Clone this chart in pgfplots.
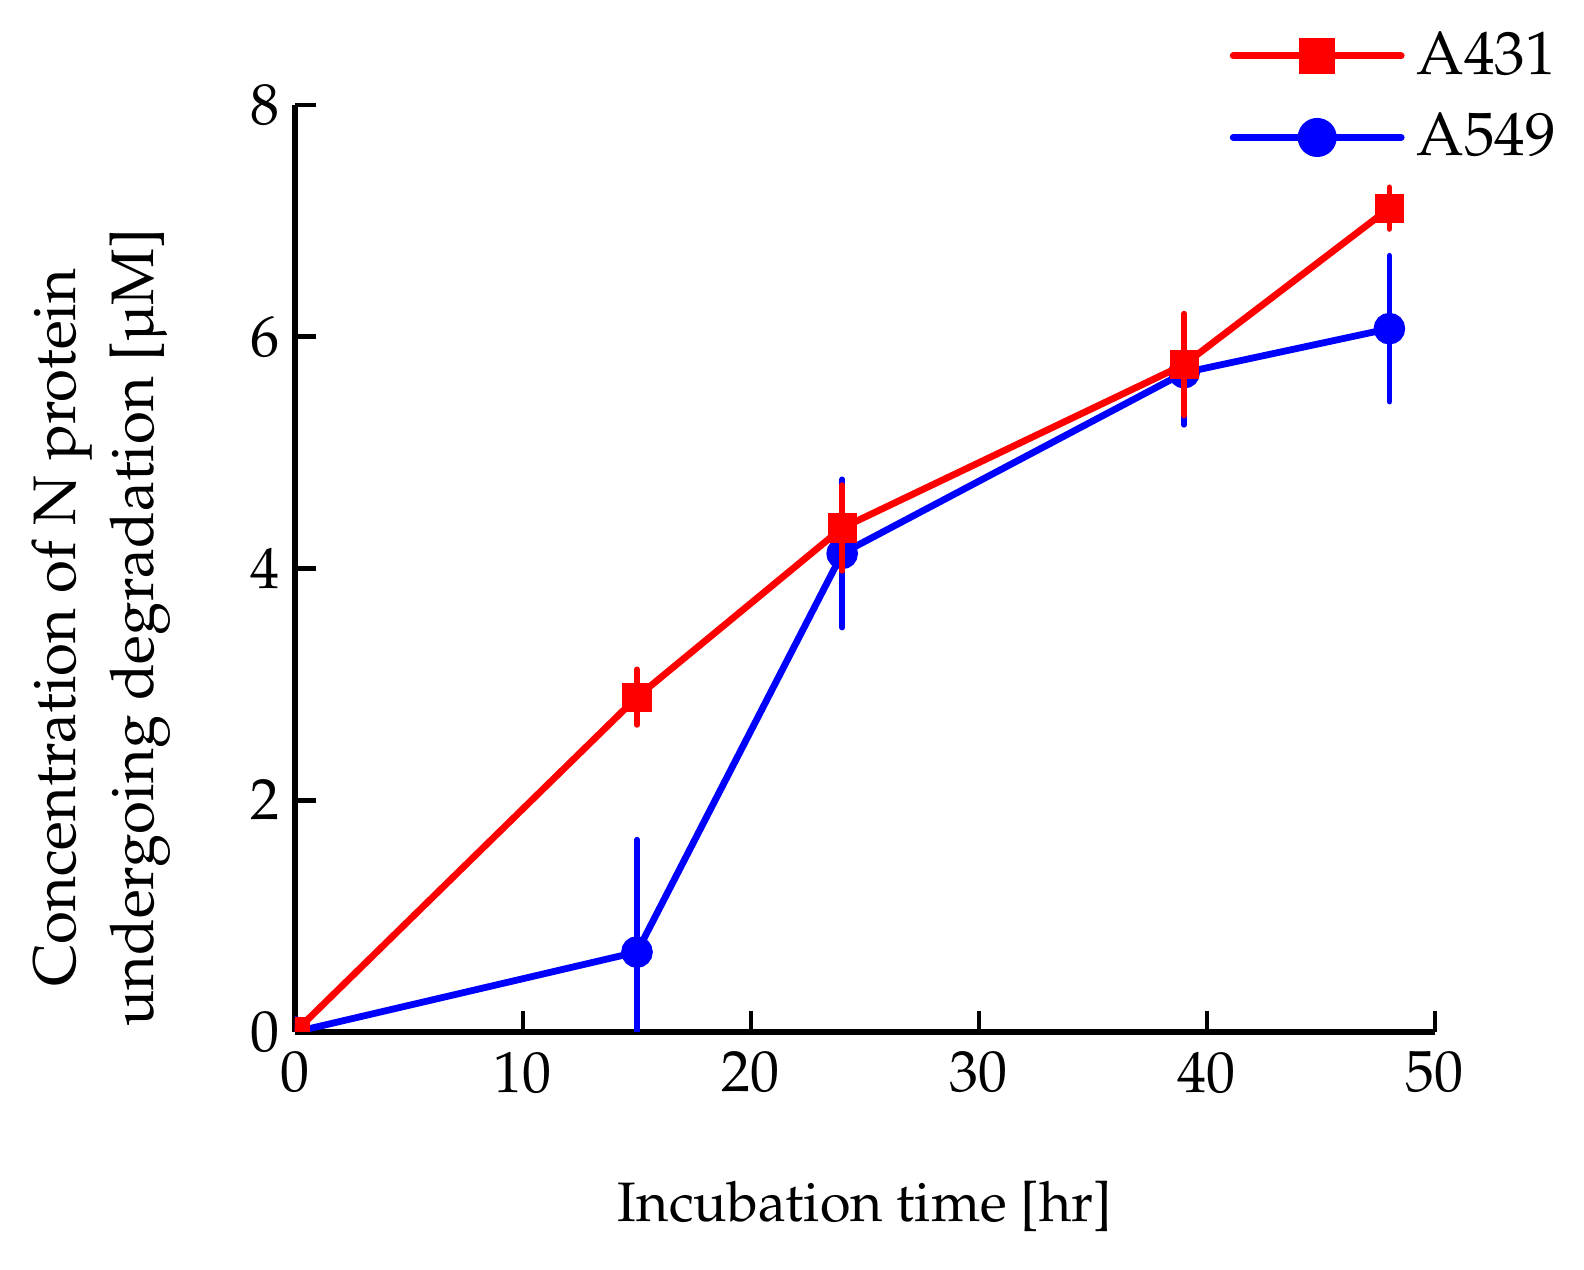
\documentclass[border=0pt]{standalone}
\usepackage[T1]{fontenc}
\usepackage{mathpazo}
\usepackage{textcomp}
\usepackage{pgfplots}
\pgfplotsset{compat=1.18}
\definecolor{cred}{RGB}{255,0,0}
\definecolor{cblue}{RGB}{0,0,255}
\begin{document}
\begin{tikzpicture}
\path[use as bounding box] (-73.75pt,-59.5pt) rectangle (322.25pt,258pt);
\begin{axis}[
  name=ax,
  at={(0pt,0pt)}, anchor=south west,
  scale only axis,
  width=285pt, height=231.75pt,
  xmin=0, xmax=50, ymin=0, ymax=8,
  axis x line*=bottom, axis y line*=left,
  axis line style={line width=1.65pt, -},
  xtick={0,10,...,50}, ytick={0,2,...,8},
  tick align=inside,
  major tick length=5.2pt,
  tick style={line width=1.2pt, black},
  font=\fontsize{14.5}{17}\selectfont,
  xticklabel style={inner sep=0pt, yshift=-4.7pt},
  yticklabel style={inner sep=0pt, xshift=-3.75pt},
  xlabel={Incubation time [hr]},
  xlabel style={at={(axis description cs:0.5,-0.1597)}, anchor=north, inner sep=0pt, font=\fontsize{13.9}{17}\selectfont},
  ylabel={Concentration of N protein\\undergoing degradation [\textmu M]},
  ylabel style={at={(axis description cs:-0.1088,0.436)}, anchor=south, inner sep=0pt, align=center, font=\fontsize{15}{19.5}\selectfont},
  clip marker paths=true,
  reverse legend,
  legend style={at={(axis description cs:0.8193,1.080)}, anchor=north west, draw=none, fill=none, inner sep=0pt, row sep=8.3pt, column sep=3pt, nodes={inner sep=0pt, anchor=west}, font=\fontsize{15.3}{18}\selectfont},
  legend cell align=left,
  legend image code/.code={%
    \draw[mark repeat=2, mark phase=2, #1, mark options={scale=1.3}] plot coordinates {(0pt,0pt) (21pt,0pt) (42pt,0pt)};
  },
]
\addplot[color=cblue, line width=1.7pt, line cap=round, mark=*, mark size=3.1pt,
  error bars/.cd, y dir=both, y explicit, error mark=none, error bar style={line width=1.4pt, cblue}]
  coordinates {
  (0,0) +- (0,0)
  (15,0.69) +- (0,0.97)
  (24,4.13) +- (0,0.64)
  (39,5.69) +- (0,0.45)
  (48,6.07) +- (0,0.63)
  };
\addlegendentry{A549}
\addplot[color=cred, line width=1.7pt, line cap=round, mark=square*, mark size=2.8pt,
  error bars/.cd, y dir=both, y explicit, error mark=none, error bar style={line width=1.4pt, cred}]
  coordinates {
  (0,0) +- (0,0)
  (15,2.89) +- (0,0.24)
  (24,4.35) +- (0,0.37)
  (39,5.76) +- (0,0.44)
  (48,7.11) +- (0,0.18)
  };
\addlegendentry{A431}
\end{axis}
\end{tikzpicture}
\end{document}
